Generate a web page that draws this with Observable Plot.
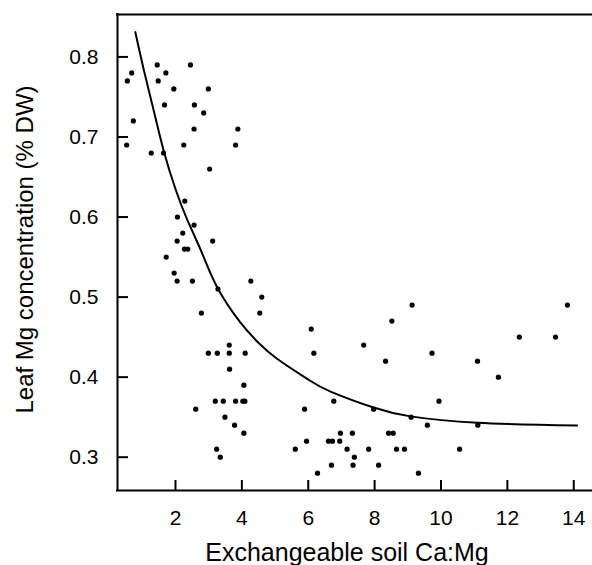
<!DOCTYPE html>
<html><head><meta charset="utf-8">
<script src="https://cdn.jsdelivr.net/npm/d3@7"></script>
<script src="https://cdn.jsdelivr.net/npm/@observablehq/plot@0.6"></script>
<style>body{margin:0;background:#fff}</style>
</head><body><div id="chart"></div>
<script>
// Observed data: soil Ca:Mg ratio vs leaf Mg (% DW)
const ratioX = [
  0.55,0.68,0.73,0.53,
  1.27,1.45,1.48,1.71,1.95,1.67,1.64,
  2.25,2.45,2.57,2.85,2.56,2.99,3.03,
  3.81,3.88,
  2.28,2.06,2.56,2.22,2.05,3.12,
  2.27,2.37,
  1.72,1.96,2.05,2.51,3.28,4.27,2.78,
  4.60,4.54,
  2.99,3.26,3.62,3.62,4.10,3.63,4.06,
  3.20,3.44,3.81,4.03,4.09,
  2.61,3.49,3.78,4.06,3.24,3.35,
  6.09,6.17,7.67,8.52,9.13,8.33,
  5.89,6.77,7.97,9.10,9.59,
  5.95,5.61,6.61,6.73,6.97,6.95,7.33,7.17,7.82,7.39,6.70,7.35,8.12,6.28,8.42,8.56,8.66,8.90,9.32,
  9.73,9.94,10.56,11.10,11.11,11.73,12.36,13.45,13.81
];
const leafMg = [
  0.77,0.78,0.72,0.69,
  0.68,0.79,0.77,0.78,0.76,0.74,0.68,
  0.69,0.79,0.74,0.73,0.71,0.76,0.66,
  0.69,0.71,
  0.62,0.60,0.59,0.58,0.57,0.57,
  0.56,0.56,
  0.55,0.53,0.52,0.52,0.51,0.52,0.48,
  0.50,0.48,
  0.43,0.43,0.43,0.44,0.43,0.41,0.39,
  0.37,0.37,0.37,0.37,0.37,
  0.36,0.35,0.34,0.33,0.31,0.30,
  0.46,0.43,0.44,0.47,0.49,0.42,
  0.36,0.37,0.36,0.35,0.34,
  0.32,0.31,0.32,0.32,0.33,0.32,0.33,0.31,0.31,0.30,0.29,0.29,0.29,0.28,0.33,0.33,0.31,0.31,0.28,
  0.43,0.37,0.31,0.42,0.34,0.40,0.45,0.45,0.49
];
// Fitted curve
const fitX = [0.79,1.05,1.35,1.65,2.0,2.35,2.8,3.26,3.96,4.5,5.06,6.0,6.67,7.97,9.08,11.09,14.10];
const fitY = [0.831,0.783,0.732,0.682,0.635,0.597,0.555,0.512,0.468,0.443,0.423,0.397,0.382,0.362,0.351,0.343,0.3396];

const xTicks = [2,4,6,8,10,12,14];
const yTicks = [0.3,0.4,0.5,0.6,0.7,0.8];
const xTitle = "Exchangeable soil Ca:Mg";
const yTitle = "Leaf Mg concentration (% DW)";

const points = ratioX.map((x, i) => ({x, y: leafMg[i]}));
const fit = fitX.map((x, i) => ({x, y: fitY[i]}));
const xDomain = [0.253, 14.565];
const yDomain = [0.2584, 0.853];

const chart = Plot.plot({
  width: 592, height: 565,
  marginLeft: 117, marginRight: 0, marginTop: 14, marginBottom: 75,
  style: {fontFamily: "'Liberation Sans', Arial, Helvetica, sans-serif", background: "#fff", color: "#000"},
  x: {domain: xDomain},
  y: {domain: yDomain},
  marks: [
    Plot.axisX({ticks: xTicks, tickSize: -10, tickPadding: 30, strokeWidth: 2, fontSize: 21, label: null, tickFormat: d => String(d)}),
    Plot.axisY({ticks: yTicks, tickSize: -11, tickPadding: 30, strokeWidth: 2, fontSize: 21, label: null, tickFormat: d => d.toFixed(1)}),
    Plot.ruleY([yDomain[0], yDomain[1]], {stroke: "#000", strokeWidth: 2, strokeLinecap: "square"}),
    Plot.ruleX([xDomain[0]], {stroke: "#000", strokeWidth: 2, strokeLinecap: "square"}),
    Plot.line(fit, {x: "x", y: "y", curve: "natural", stroke: "#000", strokeWidth: 2}),
    Plot.dot(points, {x: "x", y: "y", r: 2.6, fill: "#000", stroke: null}),
    Plot.text([xTitle], {text: d => d, frameAnchor: "bottom", textAnchor: "middle", lineAnchor: "bottom", dy: 70, dx: -8, fontSize: 25, fill: "#000"}),
    Plot.text([yTitle], {text: d => d, frameAnchor: "left", textAnchor: "middle", lineAnchor: "bottom", rotate: -90, dx: -85, dy: -3, fontSize: 24, fill: "#000"})
  ]
});
document.getElementById("chart").append(chart);
</script>
</body></html>
